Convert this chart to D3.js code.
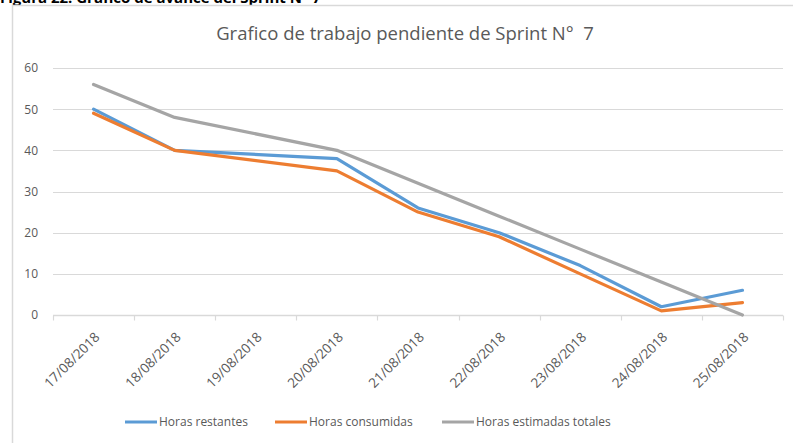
<!DOCTYPE html>
<html>
<head>
<meta charset="utf-8">
<script src="https://cdn.jsdelivr.net/npm/d3@7/dist/d3.min.js"></script>
<style>
  html, body { margin: 0; padding: 0; background: #fff; }
  svg { display: block; font-family: "Open Sans", Lato, sans-serif; }
</style>
</head>
<body>
<svg id="chart" width="793" height="443"></svg>
<script>
// Fechas del sprint (eje X) y horas por serie; el 19/08 no tiene registro
const fechas = ["17/08/2018", "18/08/2018", "19/08/2018", "20/08/2018", "21/08/2018",
                "22/08/2018", "23/08/2018", "24/08/2018", "25/08/2018"];
const horasRestantes = [50, 40, null, 38, 26, 20, 12, 2, 6];
const horasConsumidas = [49, 40, null, 35, 25, 19, 10, 1, 3];
const horasEstimadasTotales = [56, 48, null, 40, 32, 24, 16, 8, 0];
const yTicks = [0, 10, 20, 30, 40, 50, 60];

const series = [
  { nombre: "Horas restantes", valores: horasRestantes, color: "#5B9BD5" },
  { nombre: "Horas consumidas", valores: horasConsumidas, color: "#ED7D31" },
  { nombre: "Horas estimadas totales", valores: horasEstimadasTotales, color: "#A5A5A5" }
];

const svg = d3.select("#chart");
const fontFamily = "'Open Sans', Lato, sans-serif";
const textColor = "#595959";
const gridColor = "#d9d9d9";

// Pie de figura (parcialmente fuera del borde superior)
svg.append("text")
  .attr("x", 0).attr("y", 3)
  .attr("font-size", 15).attr("font-weight", "bold")
  .attr("fill", "#000")
  .text("Figura 22. Grafico de avance del Sprint N° 7");

// Marco del área del gráfico
svg.append("rect")
  .attr("x", 12.5).attr("y", 5.5)
  .attr("width", 800).attr("height", 460)
  .attr("fill", "#fff")
  .attr("stroke", gridColor).attr("stroke-width", 1.5);

// Título
svg.append("text")
  .attr("x", 405).attr("y", 40)
  .attr("text-anchor", "middle")
  .attr("font-size", 18.5)
  .attr("fill", textColor)
  .style("white-space", "pre")
  .text("Grafico de trabajo pendiente de Sprint N°  7");

const x = d3.scaleBand().domain(fechas).range([53, 783]);
const y = d3.scaleLinear().domain([0, 60]).range([315, 68]);
const cx = d => x(d) + x.bandwidth() / 2;

// Líneas de cuadrícula horizontales
svg.append("g")
  .selectAll("line")
  .data(yTicks.filter(t => t > 0))
  .join("line")
  .attr("x1", 53).attr("x2", 783)
  .attr("y1", d => Math.round(y(d)) + 0.5).attr("y2", d => Math.round(y(d)) + 0.5)
  .attr("stroke", gridColor).attr("stroke-width", 1.2);

// Eje Y (solo etiquetas)
const yAxis = svg.append("g")
  .attr("transform", "translate(38,0)")
  .call(d3.axisLeft(y).tickValues(yTicks).tickSize(0).tickPadding(0));
yAxis.select(".domain").remove();
yAxis.selectAll("text")
  .attr("font-size", 12).attr("fill", textColor)
  .style("font-family", fontFamily);

// Eje X: línea base y marcas en los límites de cada categoría
const baseY = Math.round(y(0)) + 0.5;
svg.append("line")
  .attr("x1", 53).attr("x2", 783)
  .attr("y1", baseY).attr("y2", baseY)
  .attr("stroke", gridColor).attr("stroke-width", 1.5);
const limites = fechas.map(d => x(d)).concat([x.range()[1]]);
svg.append("g")
  .selectAll("line")
  .data(limites)
  .join("line")
  .attr("x1", d => Math.round(d) + 0.5).attr("x2", d => Math.round(d) + 0.5)
  .attr("y1", baseY).attr("y2", baseY + 5)
  .attr("stroke", gridColor).attr("stroke-width", 1.2);

// Etiquetas de fecha giradas
const xAxis = svg.append("g")
  .attr("transform", `translate(0,${y(0)})`)
  .call(d3.axisBottom(x).tickSize(0));
xAxis.select(".domain").remove();
xAxis.selectAll("text")
  .attr("x", 0).attr("y", 0).attr("dy", null)
  .attr("transform", "translate(7,23) rotate(-45)")
  .style("text-anchor", "end")
  .style("font-family", fontFamily)
  .attr("font-size", 13.5).attr("fill", textColor);

// Series (se unen los puntos existentes, saltando fechas sin dato)
const linea = d3.line()
  .x(d => cx(d.fecha))
  .y(d => y(d.valor));

series.forEach(s => {
  const puntos = fechas
    .map((f, i) => ({ fecha: f, valor: s.valores[i] }))
    .filter(p => p.valor !== null);
  svg.append("path")
    .datum(puntos)
    .attr("d", linea)
    .attr("fill", "none")
    .attr("stroke", s.color)
    .attr("stroke-width", 3.2)
    .attr("stroke-linejoin", "round")
    .attr("stroke-linecap", "round");
});

// Leyenda
const leyendaX = [125, 275, 442];
const leyenda = svg.append("g");
series.forEach((s, i) => {
  const g = leyenda.append("g").attr("transform", `translate(${leyendaX[i]},422)`);
  g.append("line")
    .attr("x1", 0).attr("x2", 32)
    .attr("y1", 0).attr("y2", 0)
    .attr("stroke", s.color).attr("stroke-width", 3);
  g.append("text")
    .attr("x", 34).attr("y", 0).attr("dy", "0.35em")
    .attr("font-size", 12).attr("fill", textColor)
    .text(s.nombre);
});
</script>
</body>
</html>
